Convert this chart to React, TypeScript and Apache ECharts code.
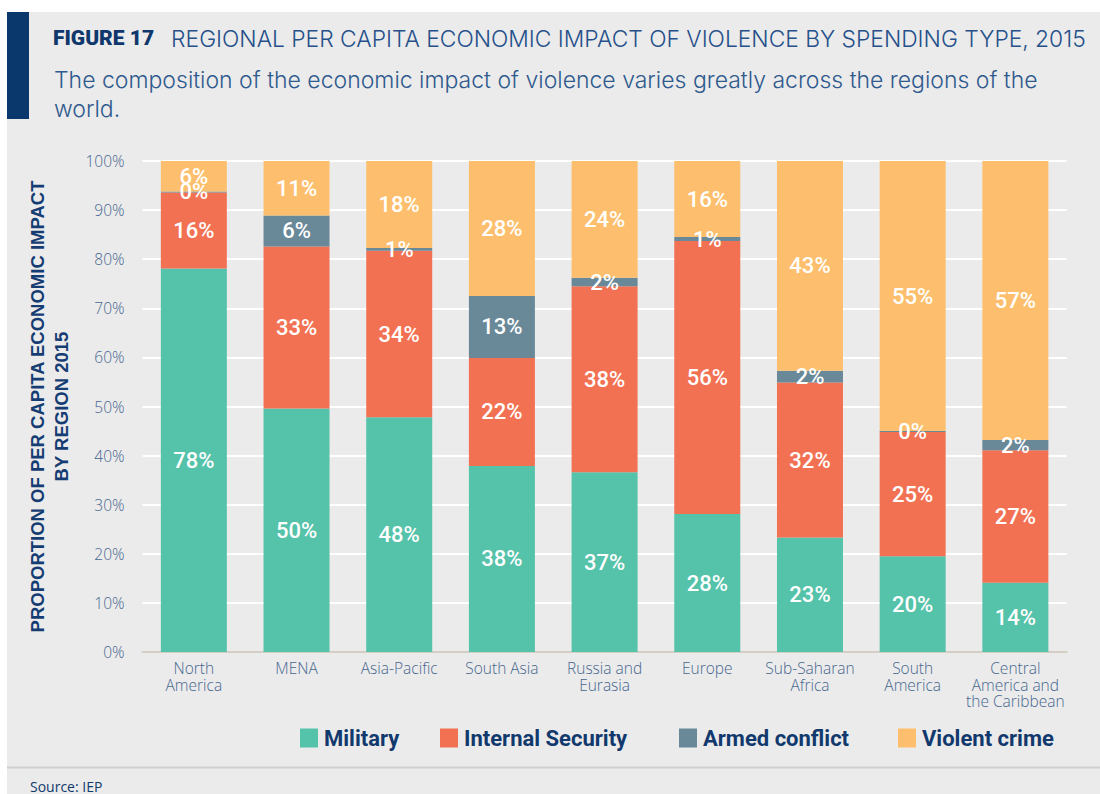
import React, { useEffect, useRef } from "react";
import * as echarts from "echarts";

const categories = [
  "North\nAmerica",
  "MENA",
  "Asia-Pacific",
  "South Asia",
  "Russia and\nEurasia",
  "Europe",
  "Sub-Saharan\nAfrica",
  "South\nAmerica",
  "Central\nAmerica and\nthe Caribbean",
];
const military = [78.1, 49.6, 47.8, 37.9, 36.6, 28.1, 23.3, 19.5, 14.1];
const internalSecurity = [15.5, 33.0, 33.9, 22.0, 37.9, 55.6, 31.6, 25.3, 27.0];
const armedConflict = [0.2, 6.3, 0.6, 12.6, 1.7, 0.8, 2.4, 0.2, 2.1];
const violentCrime = [6.2, 11.1, 17.7, 27.5, 23.8, 15.5, 42.7, 55.0, 56.8];
const seriesNames = ["Military", "Internal Security", "Armed conflict", "Violent crime"];
const seriesColors = ["#55c2aa", "#f37153", "#698898", "#fdbf6d"];
const yTicks = [0, 10, 20, 30, 40, 50, 60, 70, 80, 90, 100];

const FONT = "Roboto, 'Noto Sans', sans-serif";
const LIGHT = "'Open Sans', Roboto, sans-serif";
const HEAD = "Inter, 'Open Sans', sans-serif";
const NAVY = "#12396d";
const AXIS_TEXT = "#46668f";

export default function App() {
  const ref = useRef<HTMLDivElement>(null);

  useEffect(() => {
    if (!ref.current) return;
    const chart = echarts.init(ref.current, undefined, { renderer: "svg" });
    const values = [military, internalSecurity, armedConflict, violentCrime];
    const legendLefts = [300, 440, 679, 898];

    const option: any = {
      animation: false,
      backgroundColor: "#ebebeb",
      textStyle: { fontFamily: FONT },
      title: [
        {
          left: 53,
          top: 24,
          padding: 0,
          text:
            "{b|FIGURE 17}{n|REGIONAL PER CAPITA ECONOMIC IMPACT OF VIOLENCE BY SPENDING TYPE, 2015}",
          textStyle: {
            rich: {
              b: {
                fontFamily: FONT,
                fontWeight: 900,
                fontSize: 21,
                color: "#0f376b",
                padding: [0, 17, 0, 0],
                lineHeight: 28,
              },
              n: {
                fontFamily: HEAD,
                fontWeight: 300,
                fontSize: 22.8,
                color: "#25508a",
                lineHeight: 28,
              },
            },
          },
        },
        {
          left: 54,
          top: 65,
          padding: 0,
          text:
            "The composition of the economic impact of violence varies greatly across the regions of the\nworld.",
          textStyle: {
            fontFamily: HEAD,
            fontWeight: 300,
            fontSize: 23,
            lineHeight: 29,
            color: "#2f5a8e",
          },
        },
        {
          left: 30,
          top: 779,
          padding: 0,
          text: "Source: IEP",
          textStyle: {
            fontFamily: LIGHT,
            fontWeight: 400,
            fontSize: 14,
            lineHeight: 14,
            color: NAVY,
          },
        },
      ],
      graphic: [
        { type: "rect", shape: { x: 0, y: 0, width: 1100, height: 12 }, style: { fill: "#ffffff" }, silent: true },
        { type: "rect", shape: { x: 0, y: 0, width: 7, height: 794 }, style: { fill: "#ffffff" }, silent: true },
        { type: "rect", shape: { x: 7, y: 12, width: 22, height: 107 }, style: { fill: "#0a386c" }, silent: true },
        {
          type: "line",
          shape: { x1: 7, y1: 767.5, x2: 1100, y2: 767.5 },
          style: { stroke: "#cfcfcf", lineWidth: 2 },
          silent: true,
        },
      ],
      legend: seriesNames.map((name, i) => ({
        data: [name],
        left: legendLefts[i],
        top: 727,
        padding: 0,
        itemWidth: 18,
        itemHeight: 19,
        itemGap: 0,
        icon: "rect",
        selectedMode: false,
        textStyle: {
          fontFamily: FONT,
          fontWeight: 700,
          fontSize: 22,
          color: NAVY,
          padding: [0, 0, 0, 1],
        },
      })),
      grid: { left: 142.5, right: 33.3, top: 161, bottom: 142, containLabel: false },
      xAxis: {
        type: "category",
        data: categories,
        axisTick: { show: false },
        axisLine: { show: true, lineStyle: { color: "#d3cfc4", width: 2 } },
        axisLabel: {
          interval: 0,
          margin: 8,
          fontFamily: LIGHT,
          fontWeight: 300,
          fontSize: 15.5,
          lineHeight: 16.5,
          color: AXIS_TEXT,
        },
      },
      yAxis: {
        type: "value",
        min: yTicks[0],
        max: yTicks[yTicks.length - 1],
        interval: 10,
        name: "PROPORTION OF PER CAPITA ECONOMIC IMPACT\nBY REGION 2015",
        nameLocation: "middle",
        nameRotate: 90,
        nameGap: 69.5,
        nameTextStyle: {
          fontFamily: "'Liberation Sans', Arial, sans-serif",
          fontWeight: 700,
          fontSize: 18.5,
          lineHeight: 23.5,
          color: "#163d73",
          align: "center",
        },
        axisLine: { show: false },
        axisTick: { show: false },
        splitLine: { show: true, lineStyle: { color: "#ffffff", width: 2 } },
        axisLabel: {
          margin: 18,
          fontFamily: LIGHT,
          fontWeight: 300,
          fontSize: 15.5,
          color: AXIS_TEXT,
          formatter: "{value}%",
        },
      },
      series: seriesNames.map((name, i) => ({
        name,
        type: "bar",
        stack: "total",
        barWidth: 66,
        data: values[i],
        itemStyle: { color: seriesColors[i] },
        label: {
          show: true,
          position: "inside",
          fontFamily: FONT,
          fontWeight: 500,
          fontSize: 22,
          color: "#ffffff",
          formatter: (p: any) => `${Math.round(p.value)}%`,
        },
        emphasis: { disabled: true },
      })),
    };

    chart.setOption(option);
    return () => chart.dispose();
  }, []);

  return (
    <div
      ref={ref}
      style={{ position: "fixed", left: 0, top: 0, width: 1100, height: 794 }}
    />
  );
}
